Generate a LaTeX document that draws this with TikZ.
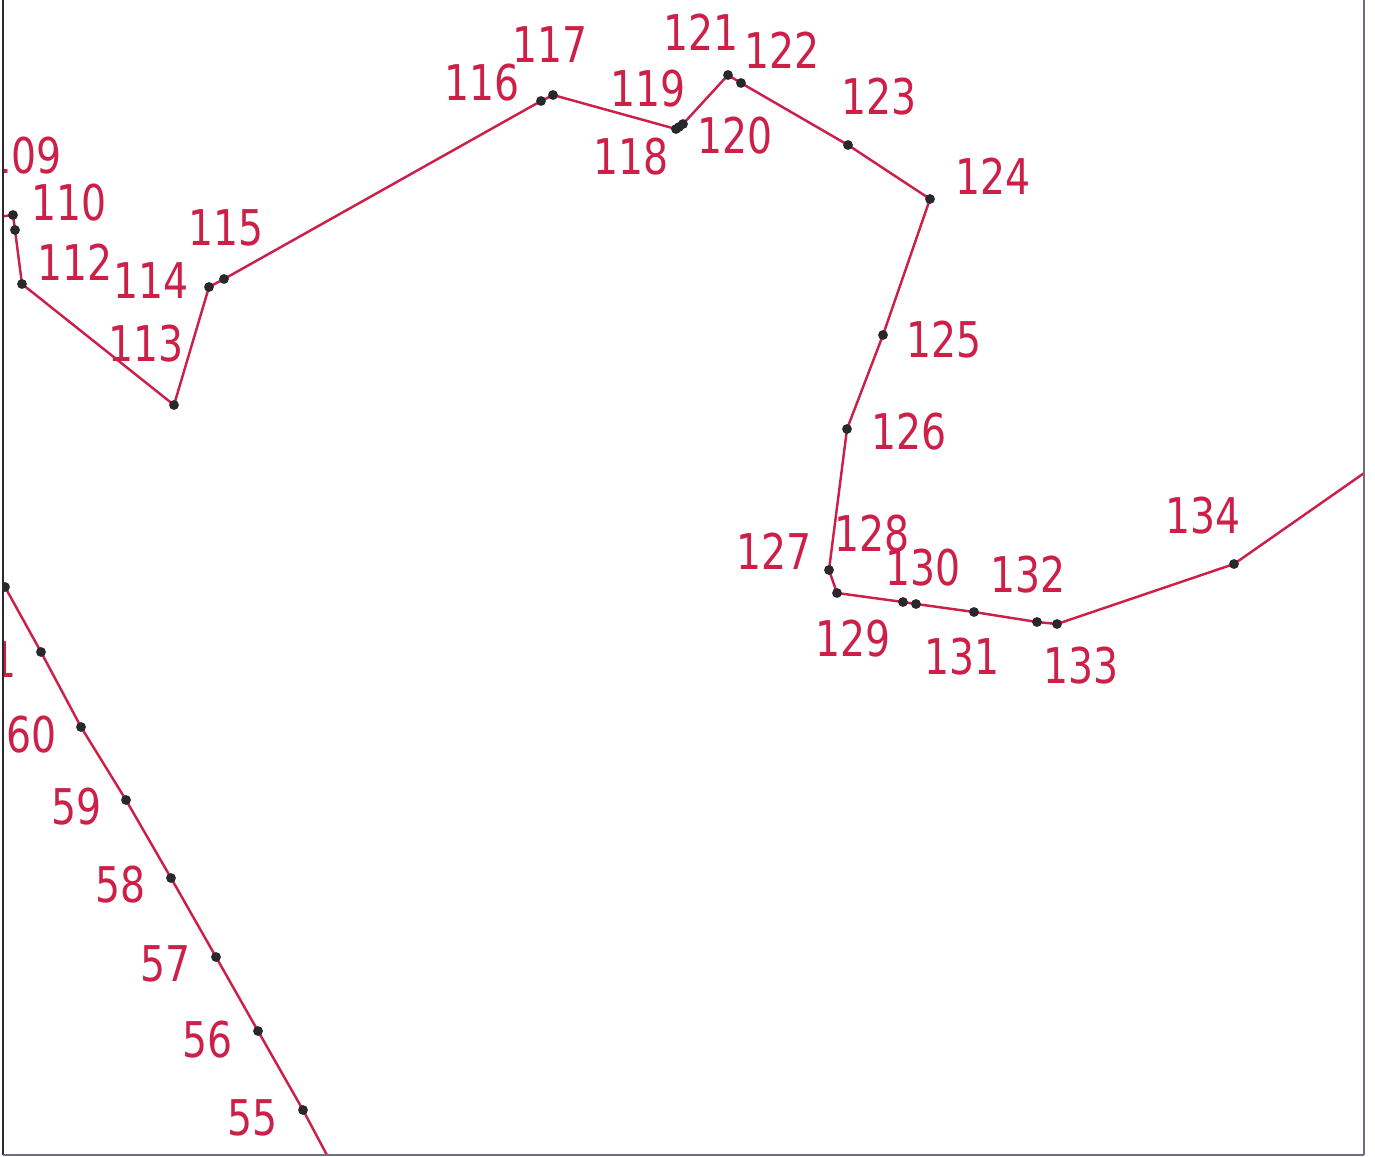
\documentclass[tikz,border=0pt]{standalone}
\usepackage{fontspec}
\newfontfamily\lblfont[FakeStretch=0.8]{DejaVu Sans}
\definecolor{trackred}{RGB}{204,32,72}
\definecolor{dotgrey}{RGB}{40,40,45}
\definecolor{framegrey}{RGB}{110,110,140}

\begin{document}
\begin{tikzpicture}[x=0.01cm,y=-0.01cm,
  track/.style={trackred,line width=0.7pt},
  lbl/.style={text=trackred,font=\lblfont\fontsize{14}{15}\selectfont,inner sep=0pt}]
  \useasboundingbox (0,0) rectangle (1375,1157);
  % upper track, points 109 to 135
  \foreach \n/\x/\y in {109/-10/218,110/13/215,111/15/230,112/22/284,113/174/405,
      114/209/287,115/224/279,116/541/101,117/553/95,118/676/129,119/679/127,
      120/683/124,121/728/75,122/741/83,123/848/145,124/930/199,125/883/335,
      126/847/429,127/829/570,128/837/593,129/903/602,130/916/604,131/974/612,
      132/1037/622,133/1057/624,134/1234/564,135/1420/434}
    \coordinate (p\n) at (\x,\y);
  % lower track, points 54 to 63
  \foreach \n/\x/\y in {54/345/1189,55/303/1110,56/258/1031,57/216/957,58/171/878,
      59/126/800,60/81/727,61/41/652,62/5/587,63/-30/523}
    \coordinate (p\n) at (\x,\y);
  \begin{scope}
    \clip (3,0) rectangle (1364,1155);
    \draw[track] (p109) \foreach \n in {110,...,135} { -- (p\n) };
    \draw[track] (p54) \foreach \n in {55,...,63} { -- (p\n) };
    \foreach \n in {110,...,134} { \fill[dotgrey] (p\n) circle (1.4pt); }
    \foreach \n in {55,...,62} { \fill[dotgrey] (p\n) circle (1.4pt); }
    % labels
    \foreach \n/\x/\y in {109/24/156,110/69/203,112/75/262,113/146/344,114/151/281,
        115/226/228,116/482/83,117/550/45,118/631/157,119/648/89,120/735/136,
        121/701/32,122/782/50,123/879/97,124/993/176,125/944/340,126/909/432,
        127/774/551,128/872/534,129/853/639,130/923/568,131/962/657,132/1028/575,
        133/1081/666,134/1203/516,
        55/253/1118,56/208/1040,57/166/964,58/121/885,59/77/807,60/32/735,61/-8/660}
      \node[lbl] (l\n) at (\x,\y) {\n};
  \end{scope}
  % frame
  \draw[dotgrey,line width=0.6pt] (3,0) -- (3,1155);
  \draw[framegrey,line width=0.4pt] (1364,0) -- (1364,1155) (3,1155) -- (1364,1155);
\end{tikzpicture}
\end{document}
